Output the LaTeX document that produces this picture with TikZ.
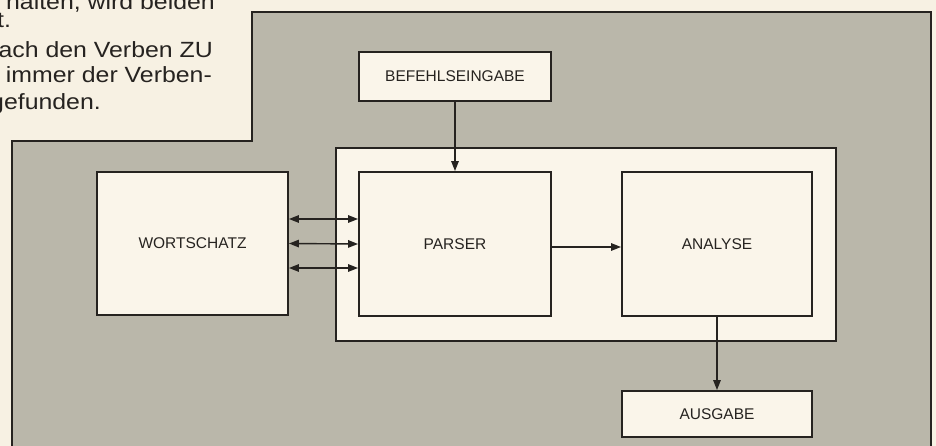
\documentclass[tikz,border=0pt]{standalone}
\usepackage{fontspec}
\setmainfont{Liberation Sans}
\newfontfamily\colfont[FakeStretch=1.13]{Liberation Sans}
\usetikzlibrary{arrows.meta}
\definecolor{paper}{RGB}{247,241,227}
\definecolor{panel}{RGB}{186,183,170}
\definecolor{ink}{RGB}{38,35,32}
\definecolor{boxfill}{RGB}{250,245,234}
\begin{document}
\begin{tikzpicture}[x=1pt,y=-1pt,
  blockbox/.style={draw=ink,line width=1.9pt,fill=boxfill,inner sep=0pt,text=ink,font=\fontsize{15.5}{18}\selectfont},
  tip/.tip={Triangle[length=10pt,width=7.5pt]},
  conn/.style={draw=ink,line width=1.4pt,-tip},
  dconn/.style={draw=ink,line width=1.4pt,tip-tip},
  coltext/.style={font=\colfont\fontsize{22}{26}\selectfont,text=ink,inner sep=0pt}]
\useasboundingbox (0,0) rectangle (936,446);
\fill[paper] (0,0) rectangle (936,446);
\begin{scope}
\clip (0,0) rectangle (936,446);
\node[coltext,anchor=base east] (l1) at (215,10) {halten, wird beiden};
\node[coltext,anchor=base west] (l2) at (-3,28) {t.};
\node[coltext,anchor=base east] (l3) at (213,58) {ach den Verben ZU};
\node[coltext,anchor=base east] (l4) at (212,83) {immer der Verben-};
\node[coltext,anchor=base west] (l5) at (-10,110) {gefunden.};
\filldraw[fill=panel,draw=ink,line width=1.9pt] (12,470) -- (12,141) -- (252,141) -- (252,12) -- (931,12) -- (931,470);
\end{scope}
\node[blockbox,minimum width=500pt,minimum height=193pt] (frame) at (586,244.5) {};
\node[blockbox,minimum width=192pt,minimum height=49pt] (bef) at (455,76.5) {BEFEHLSEINGABE};
\node[blockbox,minimum width=191pt,minimum height=143pt] (wort) at (192.5,243.5) {WORTSCHATZ};
\node[blockbox,minimum width=192pt,minimum height=144pt] (parser) at (455,244) {PARSER};
\node[blockbox,minimum width=190pt,minimum height=144pt] (analyse) at (717,244) {ANALYSE};
\node[blockbox,minimum width=190pt,minimum height=46pt] (ausgabe) at (717,414) {AUSGABE};
\draw[conn] (bef.south) -- (parser.north);
\draw[dconn] ([yshift=24.5pt]wort.east) -- ([yshift=25pt]parser.west);
\draw[dconn] (wort.east) -- (parser.west);
\draw[dconn] ([yshift=-24.5pt]wort.east) -- ([yshift=-24pt]parser.west);
\draw[conn] ([yshift=-3pt]parser.east) -- ([yshift=-3pt]analyse.west);
\draw[conn] (analyse.south) -- (ausgabe.north);
\end{tikzpicture}
\end{document}
